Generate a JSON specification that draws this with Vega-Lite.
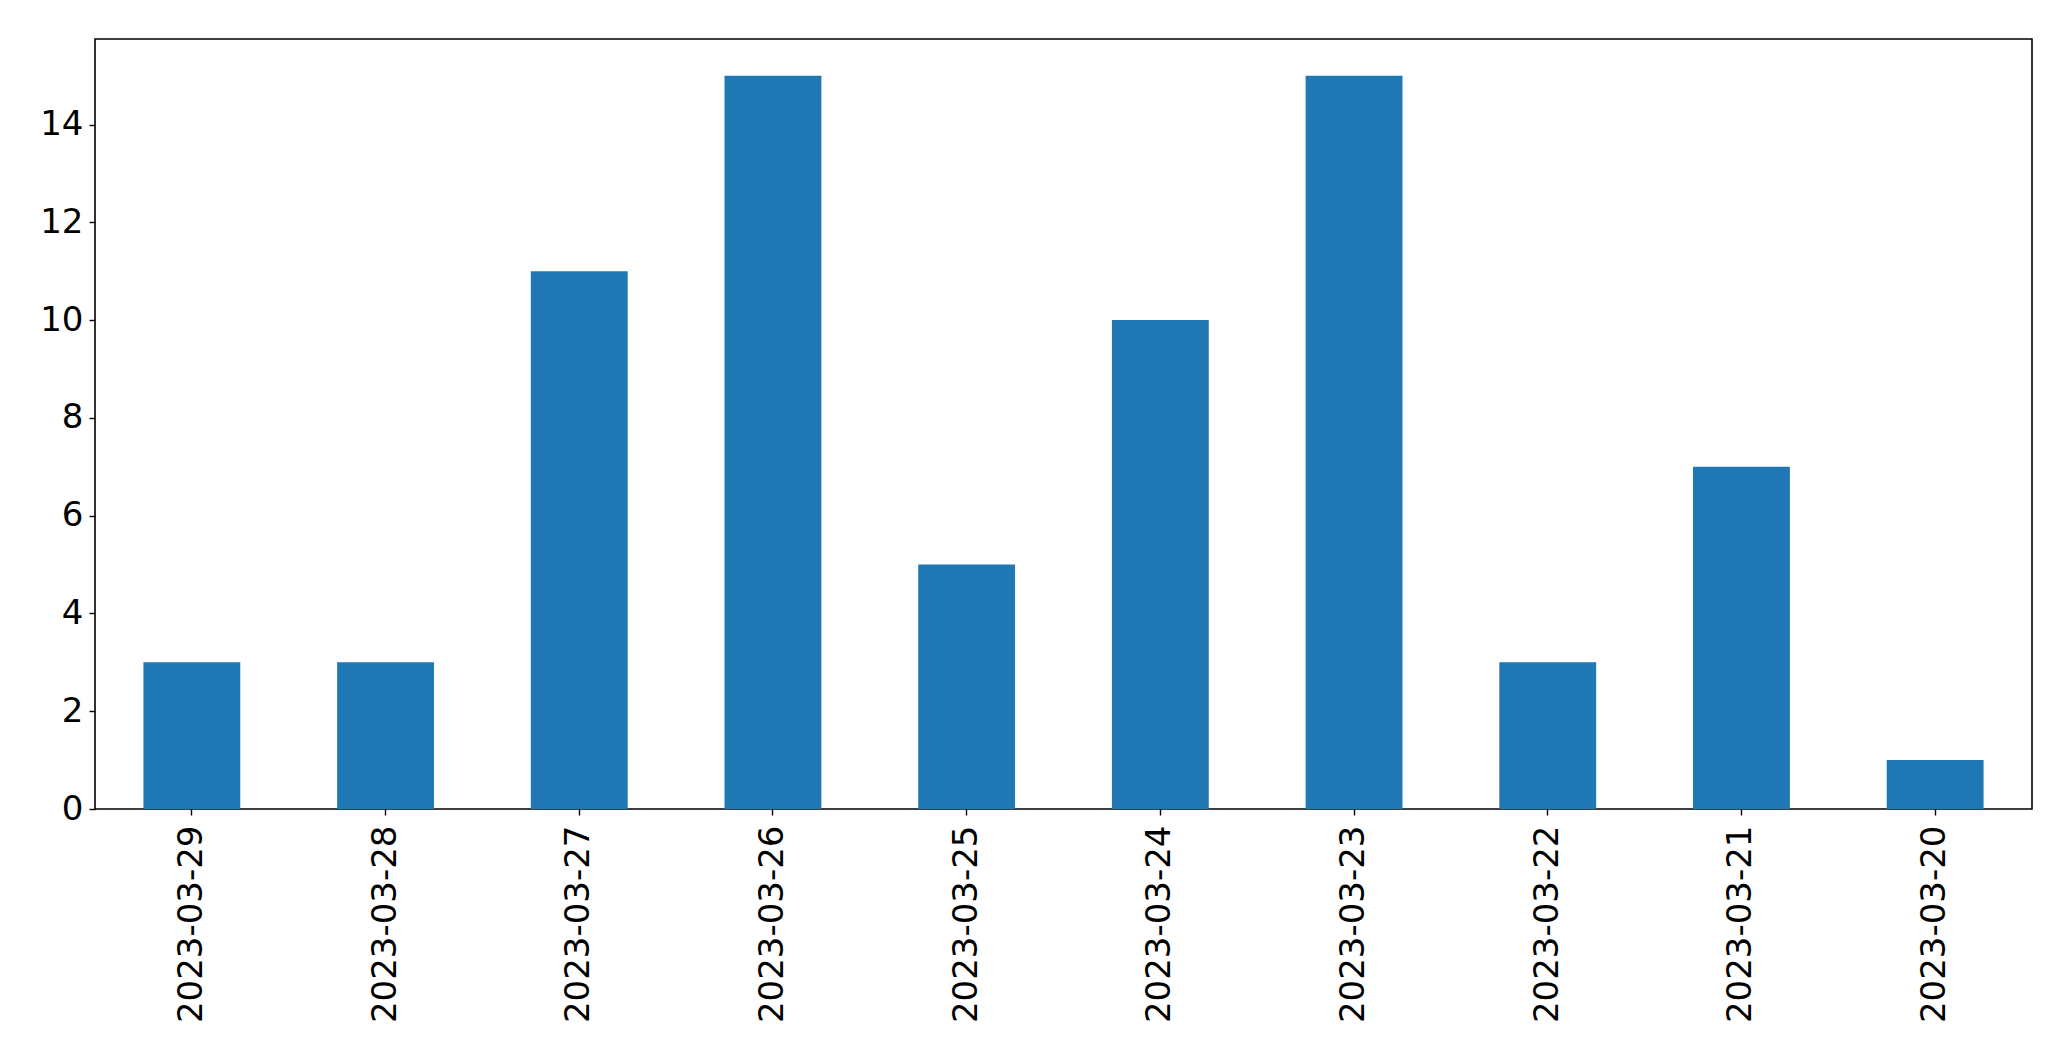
{
  "$schema": "https://vega.github.io/schema/vega-lite/v6.json",
  "autosize": {"type": "none"},
  "padding": {"left": 95, "top": 39, "right": 39, "bottom": 252},
  "width": 1937,
  "height": 770,
  "background": "white",
  "config": {
    "view": {"stroke": "black", "strokeWidth": 1.6},
    "font": "DejaVu Sans"
  },
  "data": {
    "values": [
      {"date": "2023-03-29", "count": 3},
      {"date": "2023-03-28", "count": 3},
      {"date": "2023-03-27", "count": 11},
      {"date": "2023-03-26", "count": 15},
      {"date": "2023-03-25", "count": 5},
      {"date": "2023-03-24", "count": 10},
      {"date": "2023-03-23", "count": 15},
      {"date": "2023-03-22", "count": 3},
      {"date": "2023-03-21", "count": 7},
      {"date": "2023-03-20", "count": 1}
    ]
  },
  "mark": {"type": "bar", "color": "#1f77b4"},
  "encoding": {
    "x": {
      "field": "date",
      "type": "ordinal",
      "sort": null,
      "scale": {"paddingInner": 0.5, "paddingOuter": 0.25},
      "axis": {
        "title": null,
        "labelAngle": -90,
        "labelFontSize": 34,
        "labelLimit": 0,
        "labelColor": "black",
        "labelFont": "DejaVu Sans",
        "labelPadding": 10,
        "tickSize": 6,
        "tickColor": "black",
        "tickWidth": 1.4,
        "domain": false,
        "grid": false
      }
    },
    "y": {
      "field": "count",
      "type": "quantitative",
      "scale": {"domain": [0, 15.75], "nice": false, "zero": true},
      "axis": {
        "title": null,
        "values": [0, 2, 4, 6, 8, 10, 12, 14],
        "labelFontSize": 34,
        "labelColor": "black",
        "labelFont": "DejaVu Sans",
        "labelPadding": 6,
        "tickSize": 6,
        "tickColor": "black",
        "tickWidth": 1.4,
        "domain": false,
        "grid": false
      }
    }
  }
}
